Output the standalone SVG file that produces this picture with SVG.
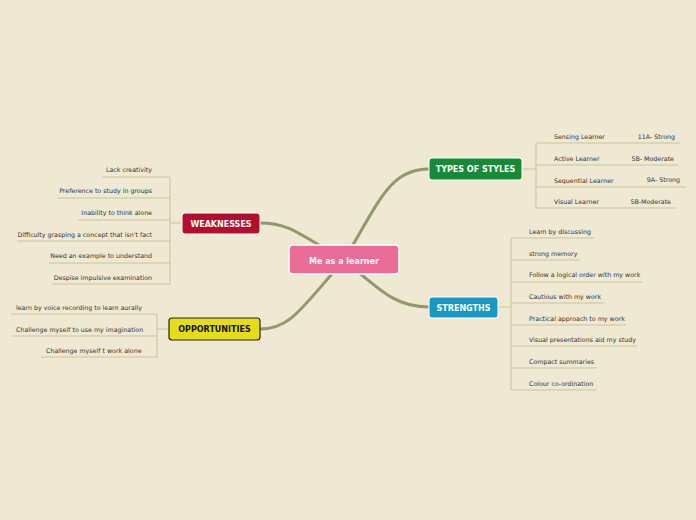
<svg xmlns="http://www.w3.org/2000/svg" width="696" height="520" viewBox="0 0 696 520">
<style>
.t{font-family:"DejaVu Sans",sans-serif;font-size:6.3px;fill:#333}
.r{text-anchor:end}
.ln{stroke:#c9c49c;stroke-width:1;fill:none}
.br{stroke:#8f9a6a;fill:none;stroke-linecap:round}
.nt{font-family:"DejaVu Sans",sans-serif;font-size:8px;font-weight:bold;fill:#fff;text-anchor:middle}
</style>
<rect width="696" height="520" fill="#efe8d2"/>
<g id="connectors">
<path class="br" stroke-width="3" d="M344,260 C380,200 390,169 429,169"/>
<path class="br" stroke-width="3" d="M344,260 C300,235 290,223 260,223"/>
<path class="br" stroke-width="3" d="M344,260 C300,310 290,329 260,329"/>
<path class="br" stroke-width="3" d="M344,260 C380,290 395,307 429,307"/>
<g class="ln">
<path d="M522,169H536M536,143V208M536,143H620M536,165H615M536,187H628M536,208H612M620,143H680M615,165H678M628,187H686M612,208H676"/>
<path d="M498,307H511M511,238V390M511,238H594M511,260H580M511,282H642M511,303H604M511,325H626M511,346H637M511,368H597M511,390H597"/>
<path d="M182,223H170M170,177V284M102,177H170M57,198H170M78,220H170M17,241H170M49,263H170M52,284H170"/>
<path d="M169,329H157M157,314V357M11,314H157M11,336H157M41,357H157"/>
</g>
</g>
<g id="center"><rect x="289" y="245" width="110" height="29" rx="4" fill="#e96c98" stroke="#fff" stroke-width="1.5"/><text class="nt" x="344" y="264" font-size="10">Me as a learner</text></g>
<g id="types"><rect x="429" y="158" width="93" height="22" rx="3" fill="#178a38" stroke="#fff"/><text class="nt" x="475.5" y="172">TYPES OF STYLES</text>
<text class="t" x="554" y="139">Sensing Learner</text><text class="t" x="554" y="161">Active Learner</text><text class="t" x="554" y="183">Sequential Learner</text><text class="t" x="554" y="204">Visual Learner</text>
<text class="t r" x="675" y="139">11A- Strong</text><text class="t r" x="674" y="161">5B- Moderate</text><text class="t r" x="680" y="182">9A- Strong</text><text class="t r" x="671" y="204">5B-Moderate</text></g>
<g id="weak"><rect x="182" y="213" width="78" height="21" rx="3" fill="#b50e2d" stroke="#fff"/><text class="nt" x="221" y="226.5">WEAKNESSES</text>
<text class="t r" x="152" y="172">Lack creativity</text><text class="t r" x="152" y="193">Preference to study in groups</text><text class="t r" x="152" y="215">Inability to think alone</text><text class="t r" x="152" y="237">Difficulty grasping a concept that isn't fact</text><text class="t r" x="152" y="258">Need an example to understand</text><text class="t r" x="152" y="280">Despise impulsive examination</text></g>
<g id="opp"><rect x="169" y="318" width="91" height="22" rx="3" fill="#e6dc18" stroke="#222" stroke-width="1.2"/><text class="nt" x="214.5" y="332" fill="#111" style="fill:#111">OPPORTUNITIES</text>
<text class="t" x="16" y="310">learn by voice recording to learn aurally</text><text class="t" x="16" y="332">Challenge myself to use my imagination</text><text class="t" x="46" y="353">Challenge myself t work alone</text></g>
<g id="str"><rect x="429" y="297" width="69" height="21" rx="3" fill="#1899c2" stroke="#fff"/><text class="nt" x="463.5" y="310.5">STRENGTHS</text>
<text class="t" x="529" y="234">Learn by discussing</text><text class="t" x="529" y="256">strong memory</text><text class="t" x="529" y="277">Follow a logical order with my work</text><text class="t" x="529" y="299">Cautious with my work</text><text class="t" x="529" y="321">Practical approach to my work</text><text class="t" x="529" y="342">Visual presentations aid my study</text><text class="t" x="529" y="364">Compact summaries</text><text class="t" x="529" y="386">Colour co-ordination</text></g>
</svg>
